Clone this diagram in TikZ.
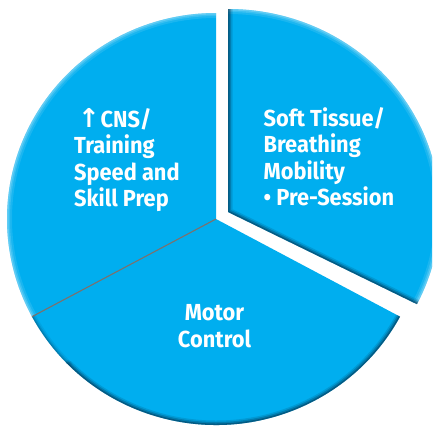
\documentclass[tikz,border=0pt]{standalone}
\usepackage{fontspec}
\setmainfont{Fira Sans}[FakeStretch=0.94]
\newfontfamily\arrowfont{DejaVu Sans}
\definecolor{piecyan}{RGB}{0,174,239}
\definecolor{rimdark}{RGB}{6,40,66}
\definecolor{splitline}{RGB}{125,112,108}
\begin{document}
\begin{tikzpicture}[x=1pt,y=-1pt,
  lbl/.style={text=white, font=\fontsize{23.2}{26.5}\selectfont\bfseries, inner sep=0pt},
  leftslicepath/.style={insert path={(M) -- (Mtop) arc[start angle=-90, end angle=-208.3, x radius=209, y radius=206] -- cycle}},
  bottomslicepath/.style={insert path={(M) -- (Mll) arc[start angle=151.7, end angle=28.3, x radius=209, y radius=206] -- cycle}},
  rightslicepath/.style={insert path={(V) -- (Vtop) arc[start angle=-90, end angle=27, x radius=212, y radius=203] -- cycle}},
  darkrim/.style={rimdark, line cap=round},
  lightrim/.style={white, line cap=round}]
\useasboundingbox (0,0) rectangle (434,426);
\fill[white] (0,0) rectangle (434,426);
\coordinate (M) at (216,219);
\coordinate (V) at (228,212);
\coordinate (Mtop) at ([shift={(M)}]-90:209 and 206);
\coordinate (Mll) at ([shift={(M)}]151.7:209 and 206);
\coordinate (Mlr) at ([shift={(M)}]28.3:209 and 206);
\coordinate (Vtop) at ([shift={(V)}]-90:212 and 203);
\coordinate (Vlr) at ([shift={(V)}]27:212 and 203);
\coordinate (Mlm) at ([shift={(M)}]135:209 and 206);

% left slice
\fill[piecyan, leftslicepath];
\begin{scope}
  \clip[leftslicepath];
  \foreach \w/\o in {10/0.10, 6/0.14, 3/0.2}
    \draw[lightrim, line width=\w, opacity=\o] (Mtop) arc[start angle=-90, end angle=-208.3, x radius=209, y radius=206];
\end{scope}

% bottom slice
\fill[piecyan, bottomslicepath];
\begin{scope}
  \clip[bottomslicepath];
  \foreach \w/\o in {8/0.08, 5/0.12, 2.5/0.2}
    \draw[darkrim, line width=\w, opacity=\o] (Mll) arc[start angle=151.7, end angle=135, x radius=209, y radius=206];
  \foreach \w/\o in {9/0.15, 6/0.25, 3/0.4}
    \draw[darkrim, line width=\w, opacity=\o] (Mlm) arc[start angle=135, end angle=28.3, x radius=209, y radius=206];
\end{scope}
\draw[splitline, line width=1.1] (M) -- (Mll);

% right (exploded) slice
\begin{scope}
  \clip (0,0) rectangle (432,426);
  \fill[piecyan, rightslicepath];
  \clip[rightslicepath];
  \foreach \w/\o in {10/0.10, 6/0.14, 3/0.2}
    \draw[lightrim, line width=\w, opacity=\o] (Vtop) arc[start angle=-90, end angle=27, x radius=212, y radius=203];
  \foreach \w/\o in {9/0.15, 6/0.25, 3/0.4}
    \draw[darkrim, line width=\w, opacity=\o] (Vtop) -- (V) -- (Vlr);
\end{scope}

% labels
\node[lbl, anchor=base west] (cns) at (77,127.3) {\makebox[23.5pt][c]{\arrowfont\fontsize{26}{26}\selectfont ↑}CNS/};
\node[lbl, anchor=base west] (training) at (74,153.8) {Training};
\node[lbl, anchor=base west] (speed) at (74,180.3) {Speed and};
\node[lbl, anchor=base west] (skill) at (74,206.8) {Skill Prep};

\node[lbl, anchor=base west] (soft) at (263.5,126) {Soft Tissue/};
\node[lbl, anchor=base west] (breath) at (263.5,152.5) {Breathing};
\node[lbl, anchor=base west] (mob) at (263.5,179) {Mobility};
\node[lbl, anchor=base west] (pre) at (263.5,205.5) {• Pre-Session};

\node[lbl, anchor=base] (motor) at (214.5,320.7) {Motor};
\node[lbl, anchor=base] (control) at (214.5,347.2) {Control};
\end{tikzpicture}
\end{document}
